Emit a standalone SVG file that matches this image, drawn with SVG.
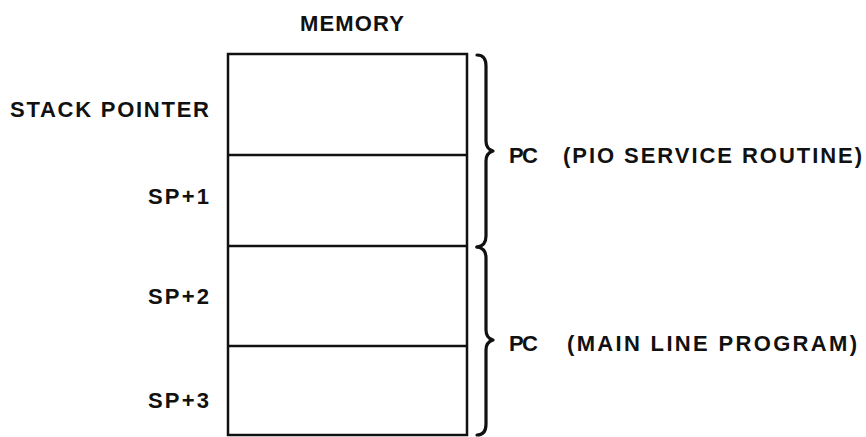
<svg xmlns="http://www.w3.org/2000/svg" width="866" height="437" viewBox="0 0 866 437">
  <style>
    .lbl { font-family: "Liberation Sans", Arial, sans-serif; font-size: 22px; font-weight: bold; fill: #111; }
    .box { fill: none; stroke: #111; stroke-width: 2.5; }
    .div { stroke: #111; stroke-width: 2.5; }
    .brace { fill: none; stroke: #111; stroke-width: 3.2; stroke-linejoin: round; stroke-linecap: round; }
  </style>
  <rect width="866" height="437" fill="#fff"/>

  <text class="lbl" x="300" y="31" textLength="104" lengthAdjust="spacing">MEMORY</text>

  <!-- stack memory cells -->
  <g id="memory">
    <rect class="box" x="228" y="54" width="239" height="381"/>
    <line class="div" x1="228" y1="155" x2="467" y2="155"/>
    <line class="div" x1="228" y1="246" x2="467" y2="246"/>
    <line class="div" x1="228" y1="346" x2="467" y2="346"/>
  </g>

  <g id="cell-labels">
    <text class="lbl" x="10" y="117" textLength="199" lengthAdjust="spacing">STACK POINTER</text>
    <text class="lbl" x="148" y="204" textLength="61" lengthAdjust="spacing">SP+1</text>
    <text class="lbl" x="148" y="304" textLength="61" lengthAdjust="spacing">SP+2</text>
    <text class="lbl" x="148" y="408" textLength="61" lengthAdjust="spacing">SP+3</text>
  </g>

  <!-- braces grouping cell pairs -->
  <g id="braces">
    <path class="brace" d="M477,55 Q486,55 486,66 L486,141 Q486,149 493,151 Q486,153 486,161 L486,236 Q486,246 477,247"/>
    <path class="brace" d="M477,247 Q486,248 486,258 L486,330 Q486,338 493,340 Q486,342 486,350 L486,424 Q486,435 477,435"/>
  </g>

  <g id="pc-labels">
    <text class="lbl" x="509" y="163" textLength="29" lengthAdjust="spacing">PC</text>
    <text class="lbl" x="563" y="163" textLength="299" lengthAdjust="spacing">(PIO SERVICE ROUTINE)</text>
    <text class="lbl" x="509" y="351" textLength="29" lengthAdjust="spacing">PC</text>
    <text class="lbl" x="567" y="351" textLength="290" lengthAdjust="spacing">(MAIN LINE PROGRAM)</text>
  </g>
</svg>
